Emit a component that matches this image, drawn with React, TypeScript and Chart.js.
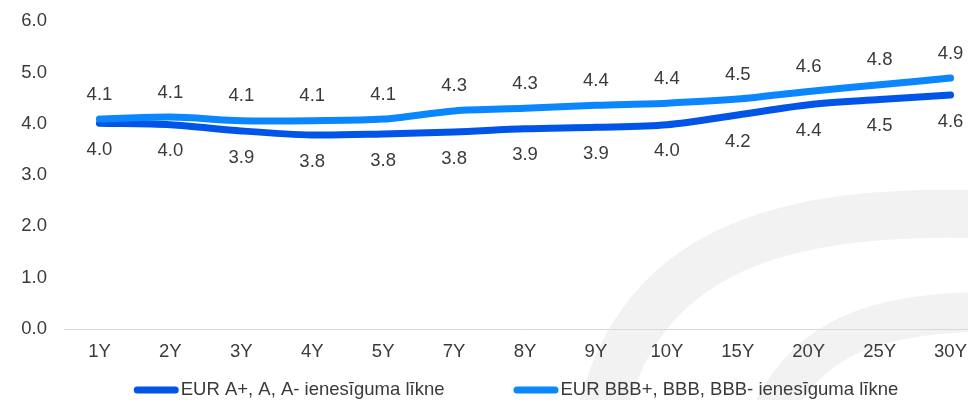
import React, { useEffect, useRef } from "react";
import { Chart, registerables } from "chart.js";

Chart.register(...registerables);

const categories = ["1Y", "2Y", "3Y", "4Y", "5Y", "7Y", "8Y", "9Y", "10Y", "15Y", "20Y", "25Y", "30Y"];
const seriesA = [4.01, 3.98, 3.86, 3.78, 3.8, 3.84, 3.9, 3.93, 3.98, 4.17, 4.37, 4.47, 4.56];
const seriesBBB = [4.09, 4.13, 4.06, 4.06, 4.09, 4.25, 4.3, 4.36, 4.4, 4.48, 4.63, 4.76, 4.89];
const labelA = "EUR A+, A, A- ienesīguma līkne";
const labelBBB = "EUR BBB+, BBB, BBB- ienesīguma līkne";
const colorA = "#0055e8";
const colorBBB = "#0a86ff";
const yTicks = [0, 1, 2, 3, 4, 5, 6];

const FONT = "'Liberation Sans', Arial, sans-serif";
const FS = 18.5;
const TEXT = "#3a3a3a";
const SHIFT = 7;

const watermark = {
  id: "watermark",
  beforeDraw(chart: any) {
    const ctx = chart.ctx;
    ctx.save();
    ctx.translate(0, SHIFT);
    ctx.strokeStyle = "#f2f2f2";
    ctx.lineCap = "butt";
    ctx.lineWidth = 48;
    ctx.beginPath();
    ctx.moveTo(598, 430);
    ctx.bezierCurveTo(632, 250, 780, 205, 1000, 215);
    ctx.stroke();
    ctx.lineWidth = 40;
    ctx.beginPath();
    ctx.moveTo(765, 430);
    ctx.bezierCurveTo(800, 335, 880, 310, 1000, 312);
    ctx.stroke();
    ctx.restore();
  },
};

const dataLabels = {
  id: "dataLabels",
  afterDatasetsDraw(chart: any) {
    const ctx = chart.ctx;
    ctx.save();
    ctx.font = `${FS}px ${FONT}`;
    ctx.fillStyle = TEXT;
    ctx.textAlign = "center";
    ctx.textBaseline = "middle";
    chart.data.datasets.forEach((ds: any, i: number) => {
      const meta = chart.getDatasetMeta(i);
      const off = ds.labelPos === "above" ? -24.5 : 26.5;
      meta.data.forEach((pt: any, j: number) => {
        ctx.fillText(Number(ds.data[j]).toFixed(1), pt.x, pt.y + off);
      });
    });
    ctx.restore();
  },
};

const customLegend = {
  id: "customLegend",
  afterDraw(chart: any) {
    const ctx = chart.ctx;
    const items = [
      { text: labelA, color: colorA },
      { text: labelBBB, color: colorBBB },
    ];
    ctx.save();
    ctx.font = `${FS}px ${FONT}`;
    const lineLen = 45;
    const gapText = 2;
    const gapItem = 69;
    const widths = items.map((it) => ctx.measureText(it.text).width);
    let total = 0;
    items.forEach((_, i) => {
      total += lineLen + gapText + widths[i];
      if (i < items.length - 1) total += gapItem;
    });
    let x = chart.width / 2 - total / 2;
    const y = 390 + SHIFT;
    items.forEach((it, i) => {
      ctx.strokeStyle = it.color;
      ctx.lineWidth = 7;
      ctx.lineCap = "round";
      ctx.beginPath();
      ctx.moveTo(x + 3.5, y);
      ctx.lineTo(x + lineLen - 3.5, y);
      ctx.stroke();
      ctx.fillStyle = TEXT;
      ctx.textAlign = "left";
      ctx.textBaseline = "middle";
      ctx.fillText(it.text, x + lineLen + gapText, y);
      x += lineLen + gapText + widths[i] + gapItem;
    });
    ctx.restore();
  },
};

export default function App() {
  const ref = useRef<HTMLCanvasElement | null>(null);
  useEffect(() => {
    if (!ref.current) return;
    const chart = new Chart(ref.current, {
      type: "line",
      data: {
        labels: categories,
        datasets: [
          {
            label: labelBBB,
            data: seriesBBB,
            borderColor: colorBBB,
            backgroundColor: colorBBB,
            borderWidth: 7,
            borderCapStyle: "round",
            borderJoinStyle: "round",
            pointRadius: 0,
            tension: 0.3,
            fill: false,
            labelPos: "above",
          } as any,
          {
            label: labelA,
            data: seriesA,
            borderColor: colorA,
            backgroundColor: colorA,
            borderWidth: 7,
            borderCapStyle: "round",
            borderJoinStyle: "round",
            pointRadius: 0,
            tension: 0.3,
            fill: false,
            labelPos: "below",
          } as any,
        ],
      },
      options: {
        animation: false,
        responsive: false,
        maintainAspectRatio: false,
        layout: { padding: { top: 21, right: 46, bottom: 0, left: 0 } },
        plugins: {
          legend: { display: false },
          tooltip: { enabled: false },
        },
        scales: {
          x: {
            offset: true,
            grid: { display: false, drawTicks: false, offset: true },
            border: { display: true, color: "#d9d9d9", width: 1 },
            ticks: {
              color: TEXT,
              font: { family: FONT, size: FS },
              padding: 12,
              maxRotation: 0,
              autoSkip: false,
            },
            afterFit: (s: any) => {
              s.height = 71;
            },
          },
          y: {
            min: 0,
            max: 6,
            afterBuildTicks: (s: any) => {
              s.ticks = yTicks.map((v) => ({ value: v }));
            },
            grid: { display: false, drawTicks: false },
            border: { display: false },
            ticks: {
              color: TEXT,
              font: { family: FONT, size: FS },
              padding: 17,
              callback: (v: any) => Number(v).toFixed(1),
            },
            afterFit: (s: any) => {
              s.width = 64;
            },
          },
        },
      },
      plugins: [watermark, dataLabels, customLegend],
    });
    return () => chart.destroy();
  }, []);
  return (
    <div
      style={{
        position: "fixed",
        left: 0,
        top: 0,
        width: 968,
        height: 400,
        overflow: "hidden",
        background: "#fff",
      }}
    >
      <canvas
        ref={ref}
        width={1032}
        height={400 + SHIFT}
        style={{ width: 1032, height: 400 + SHIFT, display: "block", marginTop: -SHIFT }}
      />
    </div>
  );
}
